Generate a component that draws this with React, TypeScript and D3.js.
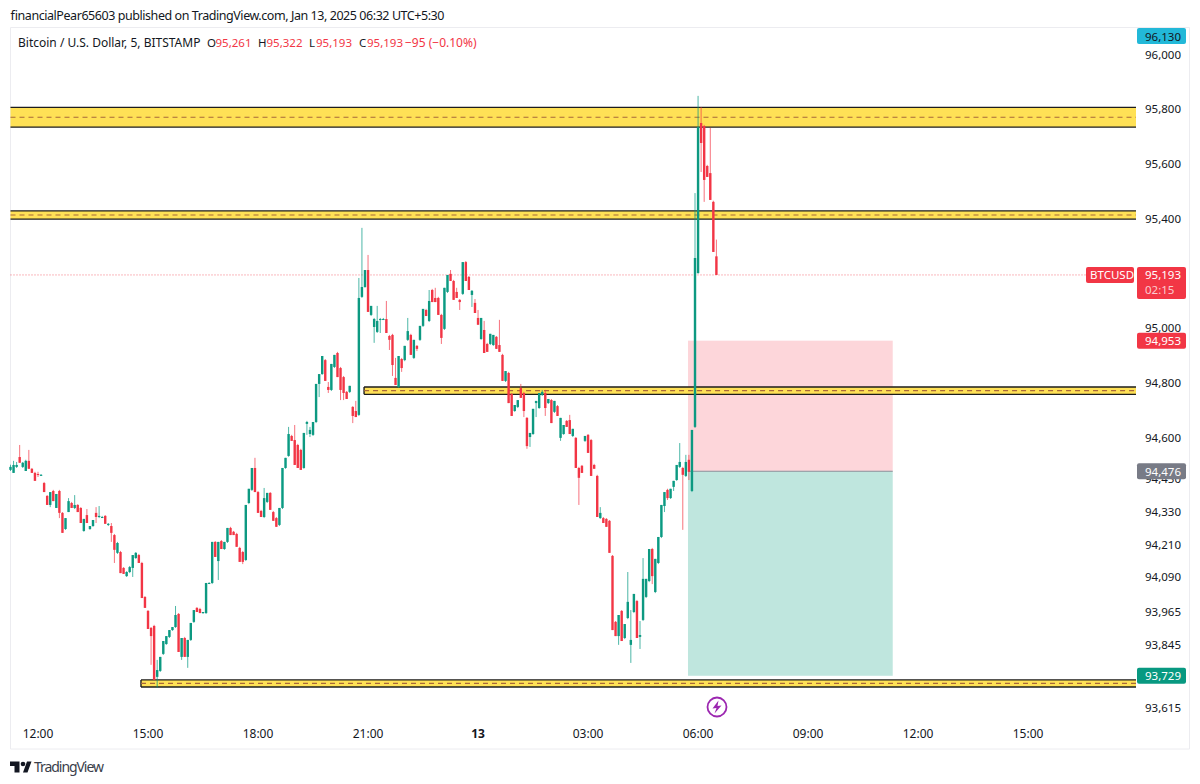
import React from 'react';
import * as d3 from 'd3';

// candles as [open, high, low, close], five minute bars from 11:15 on Jan 12
const bars1115 = [
  [94481,94500,94477,94492],[94470,94514,94470,94499],[94492,94510,94488,94499],[94528,94572,94507,94507],
  [94492,94510,94488,94507],[94477,94518,94477,94514],[94514,94554,94485,94485],[94485,94488,94470,94470],
  [94470,94474,94441,94441],[94466,94474,94455,94463],[94463,94466,94459,94463],[94433,94437,94400,94400],
  [94386,94389,94353,94353],[94353,94400,94345,94400],[94404,94408,94367,94367],[94342,94393,94342,94393],
  [94404,94408,94305,94324],[94324,94327,94251,94251],[94265,94305,94262,94305],[94327,94378,94327,94367],
  [94360,94364,94342,94342],[94342,94389,94338,94353],[94353,94356,94327,94327],[94342,94345,94287,94287],
  [94258,94302,94255,94302],[94316,94338,94287,94287],[94265,94276,94262,94276],[94276,94298,94273,94298],
  [94324,94345,94287,94309],[94309,94349,94305,94313],[94309,94313,94305,94309],[94313,94316,94284,94284],
  [94280,94287,94276,94284],[94276,94287,94218,94251],[94243,94247,94141,94189],[94178,94218,94174,94214],
  [94181,94185,94104,94104],[94123,94126,94101,94101],[94093,94111,94090,94108],[94108,94130,94104,94126],
  [94123,94170,94090,94170],[94159,94181,94156,94178],[94170,94174,94141,94141],[94141,94145,94013,94013],
  [94017,94020,93977,93977],
];
const bars1500 = [
  [93966,93969,93900,93900],[93904,93907,93769,93874],[93911,93915,93714,93714],[93725,93787,93685,93750],
  [93747,93798,93743,93798],[93809,93856,93805,93856],[93845,93874,93842,93874],[93871,93896,93867,93896],
  [93896,93907,93893,93907],[93907,93984,93904,93951],[93955,93958,93816,93816],[93798,93867,93787,93867],
  [93867,93871,93798,93798],[93798,93860,93758,93860],[93860,93922,93856,93922],[93926,93969,93922,93969],
  [93977,93980,93962,93962],[93973,93977,93958,93958],[93958,93962,93955,93962],[93958,94068,93955,94068],
  [94068,94071,94064,94068],[94068,94218,94064,94218],[94218,94221,94163,94163],[94148,94218,94079,94218],
  [94221,94225,94192,94192],[94192,94218,94189,94218],[94218,94269,94214,94269],[94269,94273,94243,94243],
  [94255,94258,94243,94243],[94247,94251,94200,94200],[94196,94200,94145,94145],[94181,94185,94137,94145],
  [94152,94353,94148,94353],[94360,94412,94356,94412],[94408,94488,94404,94488],[94488,94525,94400,94400],
];
const bars1800 = [
  [94400,94404,94324,94324],[94331,94335,94309,94309],[94309,94415,94305,94378],[94364,94397,94360,94397],
  [94397,94400,94335,94335],[94327,94331,94295,94295],[94305,94309,94273,94273],[94280,94342,94276,94342],
  [94342,94488,94338,94488],[94488,94525,94485,94525],[94532,94638,94529,94612],[94605,94609,94587,94587],
  [94590,94645,94499,94499],[94572,94576,94488,94488],[94554,94558,94481,94481],[94488,94616,94485,94616],
  [94649,94660,94609,94656],[94612,94638,94601,94627],[94609,94656,94605,94656],[94656,94795,94652,94795],
  [94795,94831,94747,94831],[94831,94897,94828,94897],[94882,94886,94806,94806],[94784,94802,94762,94773],
  [94773,94868,94769,94868],[94857,94901,94853,94901],[94908,94912,94820,94820],[94853,94857,94736,94773],
  [94820,94824,94736,94762],[94766,94769,94740,94740],[94766,94788,94762,94788],[94711,94714,94652,94678],
  [94696,94733,94674,94674],[94682,95182,94678,95109],[95113,95365,95109,95149],[95149,95211,95146,95211],
];
const bars2100 = [
  [95211,95266,95058,95058],[95047,95080,95043,95080],[95003,95036,94945,95032],[94985,95080,94981,95025],
  [95029,95036,94981,95032],[95032,95036,95029,95032],[95032,95098,94981,94981],[94970,94974,94919,94956],
  [94974,94978,94824,94864],[94817,94890,94791,94791],[94784,94897,94780,94897],[94886,94890,94839,94853],
  [94882,94934,94878,94934],[94956,95036,94952,94988],[94974,94978,94901,94901],[94890,94956,94886,94956],
  [94934,94937,94915,94923],[94956,95007,94952,95007],[95007,95069,95003,95069],[95065,95069,95043,95043],
  [95025,95138,95021,95098],[95138,95142,95094,95094],[95109,95146,95094,95094],[95109,95113,95047,95047],
  [95047,95051,94941,94963],[94996,95146,94992,95146],[95131,95193,95127,95193],[95197,95211,95171,95171],
  [95171,95175,95102,95102],[95131,95146,95109,95109],[95102,95105,95065,95094],[95124,95240,95120,95240],
  [95240,95244,95171,95171],[95186,95189,95138,95138],[95120,95138,95076,95135],[95091,95105,95054,95054],
];
const bars0000 = [
  [95036,95065,95011,95011],[94959,95036,94956,95036],[94992,95025,94908,94908],[94941,94945,94912,94912],
  [94941,94978,94937,94978],[94937,94974,94934,94974],[94967,94970,94923,94923],[94937,95029,94912,94912],
  [94901,94905,94806,94806],[94806,94842,94802,94842],[94835,94839,94725,94725],[94758,94762,94678,94678],
  [94696,94718,94693,94718],[94711,94736,94707,94736],[94780,94795,94744,94744],[94762,94766,94674,94696],
  [94671,94674,94558,94568],[94601,94616,94565,94616],[94612,94704,94609,94704],[94725,94733,94674,94733],
  [94707,94762,94704,94762],[94755,94773,94751,94766],[94762,94773,94678,94707],[94725,94740,94722,94740],
  [94736,94740,94652,94652],[94693,94733,94689,94733],[94714,94718,94678,94678],[94598,94671,94587,94671],
  [94612,94645,94609,94645],[94660,94663,94638,94638],[94663,94682,94612,94612],[94605,94631,94601,94631],
  [94598,94601,94488,94488],[94488,94492,94353,94452],[94496,94499,94470,94470],[94587,94605,94583,94605],
];
const bars0300 = [
  [94609,94612,94543,94543],[94590,94594,94459,94459],[94499,94503,94485,94485],[94459,94463,94309,94309],
  [94305,94345,94302,94324],[94305,94309,94287,94287],[94302,94305,94273,94273],[94295,94298,94178,94178],
  [94167,94170,93896,93896],[93926,93929,93874,93874],[93874,93951,93842,93951],[93966,93969,93856,93856],
  [93867,93918,93863,93918],[93940,94108,93936,93999],[93842,93969,93776,93860],[93962,94028,93958,94028],
  [94002,94006,93867,93867],[93871,93929,93827,93878],[93933,94159,93929,94083],[94017,94083,94013,94083],
  [94075,94192,94071,94192],[94192,94196,94064,94093],[94035,94156,94031,94156],[94141,94236,94137,94236],
  [94236,94353,94232,94353],[94349,94400,94327,94400],[94408,94412,94371,94378],[94378,94412,94375,94412],
  [94419,94441,94404,94441],[94444,94499,94441,94499],[94492,94579,94488,94510],[94488,94492,94262,94463],
  [94459,94536,94455,94510],[94518,94536,94444,94474],[94404,94627,94400,94627],[94638,95492,94634,95255],
];
const bars0600 = [
  [95200,95847,95197,95733],[95748,95806,95569,95675],[95737,95741,95460,95540],[95591,95595,95551,95551],
  [95565,95730,95467,95467],[95460,95464,95277,95277],[95261,95322,95193,95193],
];
const candles = [...bars1115, ...bars1500, ...bars1800, ...bars2100, ...bars0000, ...bars0300, ...bars0600];

const priceTicks = [96000, 95800, 95600, 95400, 95200, 95000, 94800, 94600, 94450, 94330, 94210, 94090, 93965, 93845, 93615];
const timeTickBars = [9, 45, 81, 117, 153, 189, 225, 261, 297, 333];
const timeTickLabels = ['12:00', '15:00', '18:00', '21:00', '13', '03:00', '06:00', '09:00', '12:00', '15:00'];

// yellow zones: [top price, bottom price, first bar]
const zones = [
  [95805, 95733, -1],
  [95427, 95397, -1],
  [94784, 94757, 115.7],
  [93714, 93688, 42.7],
];
const positionBars = [221.7, 288.7];
const stopPrice = 94953;
const entryPrice = 94476;
const targetPrice = 93729;
const lastPrice = 95193;
const bolt = 'M718.5 700.5 L712.5 708.5 L716.5 708 L714.5 713.5 L721.5 705.5 L717.5 706 Z';

const RED = '#F23645';
const GREEN = '#089981';
const INK = '#131722';
const FONT = '"Noto Sans", sans-serif';

const App = () => {
  const paneLeft = 10.5;
  const paneRight = 1136;
  const x = d3.scaleLinear().domain([0, 333]).range([10.5, 1028.1]);
  const y = d3.scaleLinear().domain([93615, 96000]).range([707, 54]);
  const fmt = d3.format(',');

  const label = (price: number, fill: string, text: string, h = 16) => (
    <g>
      <rect x={1137} y={y(price) - 8} width={49} height={h} rx={2} fill={fill} />
      <text x={1145} y={y(price) + 4.5} fontSize={11.5} fill={text}>{fmt(price)}</text>
    </g>
  );

  return (
    <svg width={1200} height={784} style={{ position: 'absolute', left: 0, top: 0 }} fontFamily={FONT}>
      <defs>
        <filter id="soft" x="-2%" y="-2%" width="104%" height="104%">
          <feGaussianBlur stdDeviation="0.3" />
        </filter>
      </defs>
      <rect width={1200} height={784} fill="#fff" />
      <text x={10} y={20} fontSize={12.5} fill={INK} textLength={434}>
        financialPear65603 published on TradingView.com, Jan 13, 2025 06:32 UTC+5:30
      </text>

      {/* pane frame */}
      <path d="M10.5 749 V27.5 H1189.5 V749 Z" fill="none" stroke="#ececf0" />

      {/* position tool */}
      <rect x={x(positionBars[0])} y={y(stopPrice)} width={x(positionBars[1]) - x(positionBars[0])} height={y(entryPrice) - y(stopPrice)} fill="#FDD6DA" />
      <rect x={x(positionBars[0])} y={y(entryPrice)} width={x(positionBars[1]) - x(positionBars[0])} height={y(targetPrice) - y(entryPrice)} fill="#BFE6DE" />
      <line x1={x(positionBars[0])} x2={x(positionBars[1])} y1={y(entryPrice)} y2={y(entryPrice)} stroke="#8a8f98" />

      {/* last price line */}
      <line x1={paneLeft} x2={1086} y1={y(lastPrice)} y2={y(lastPrice)} stroke={RED} strokeOpacity={0.7} strokeDasharray="1,2" />

      {/* zones: only the ones that start inside the pane have a left edge */}
      {zones.map((z, i) => {
        const left = Math.max(x(z[2]), paneLeft);
        const top = y(z[0]);
        const bottom = y(z[1]);
        const mid = (top + bottom) / 2;
        return (
          <g key={i}>
            <rect x={left} y={top} width={paneRight - left} height={bottom - top} fill="#FFE156" />
            <line x1={left} x2={paneRight} y1={top} y2={top} stroke="#1c1c1c" strokeWidth={1.4} />
            <line x1={left} x2={paneRight} y1={bottom} y2={bottom} stroke="#1c1c1c" strokeWidth={1.4} />
            {z[2] > 0 && <line x1={left} x2={left} y1={top} y2={bottom} stroke="#1c1c1c" strokeWidth={1.4} />}
            <line x1={left} x2={paneRight} y1={mid} y2={mid} stroke="#A8683A" strokeWidth={1.2} strokeDasharray="5,4" />
          </g>
        );
      })}

      {/* candles */}
      <g filter="url(#soft)">
        {candles.map((c, i) => {
          const [open, high, low, close] = c;
          const color = close >= open ? GREEN : RED;
          const cx = x(i);
          const top = y(Math.max(open, close));
          const bottom = y(Math.min(open, close));
          return (
            <g key={i}>
              <line x1={cx} x2={cx} y1={y(high)} y2={y(low)} stroke={color} strokeOpacity={0.7} />
              <rect x={cx - 1.2} y={top} width={2.4} height={Math.max(bottom - top, 1)} fill={color} />
            </g>
          );
        })}
      </g>

      {/* legend */}
      <text y={47} fontSize={11.5} fill={INK}>
        <tspan x={18} fontSize={12}>Bitcoin / U.S. Dollar, 5, BITSTAMP</tspan>
        <tspan x={207}>O</tspan><tspan x={215.5} fill={RED}>95,261</tspan>
        <tspan x={258}>H</tspan><tspan x={266.5} fill={RED}>95,322</tspan>
        <tspan x={309}>L</tspan><tspan x={316} fill={RED}>95,193</tspan>
        <tspan x={359}>C</tspan><tspan x={367} fill={RED}>95,193</tspan>
        <tspan x={405} fontSize={12} fill={RED}>−95 (−0.10%)</tspan>
      </text>

      {/* price axis */}
      {priceTicks.map(p => (
        <text key={p} x={1145} y={y(p) + 4.5} fontSize={11.5} fill={INK}>{fmt(p)}</text>
      ))}
      <rect x={1137} y={28} width={49} height={16} rx={2} fill="#22B8D8" />
      <text x={1145} y={40.5} fontSize={11.5} fill={INK}>96,130</text>
      <rect x={1086} y={y(lastPrice) - 8} width={48} height={16} rx={2} fill={RED} />
      <text x={1090} y={y(lastPrice) + 4.5} fontSize={11.5} fill="#fff">BTCUSD</text>
      {label(lastPrice, RED, '#fff', 32)}
      <text x={1145} y={y(lastPrice) + 19} fontSize={11.5} fill="#fff" fillOpacity={0.75}>02:15</text>
      {label(stopPrice, RED, '#fff')}
      {label(entryPrice, '#787B86', '#fff')}
      {label(targetPrice, GREEN, '#fff')}

      {/* time axis */}
      {timeTickBars.map((b, i) => (
        <text key={b} x={x(b)} y={738} fontSize={12} textAnchor="middle" fill={INK} fontWeight={timeTickLabels[i] === '13' ? 700 : 400}>
          {timeTickLabels[i]}
        </text>
      ))}

      {/* alert marker */}
      <circle cx={717} cy={707} r={9.5} fill="#fff" stroke="#9C27B0" strokeWidth={1.8} />
      <path d={bolt} fill="#9C27B0" />

      {/* footer logo */}
      <path d="M10 761.5 H19.5 V772.5 H14.5 V766 H10 Z M23 772.5 L27 761.5 H31.5 L27.5 772.5 Z" fill={INK} />
      <circle cx={23} cy={764} r={2.3} fill={INK} />
      <text x={34} y={772} fontSize={14} fill="#3a3e4a" textLength={70}>TradingView</text>
    </svg>
  );
};

export default App;
